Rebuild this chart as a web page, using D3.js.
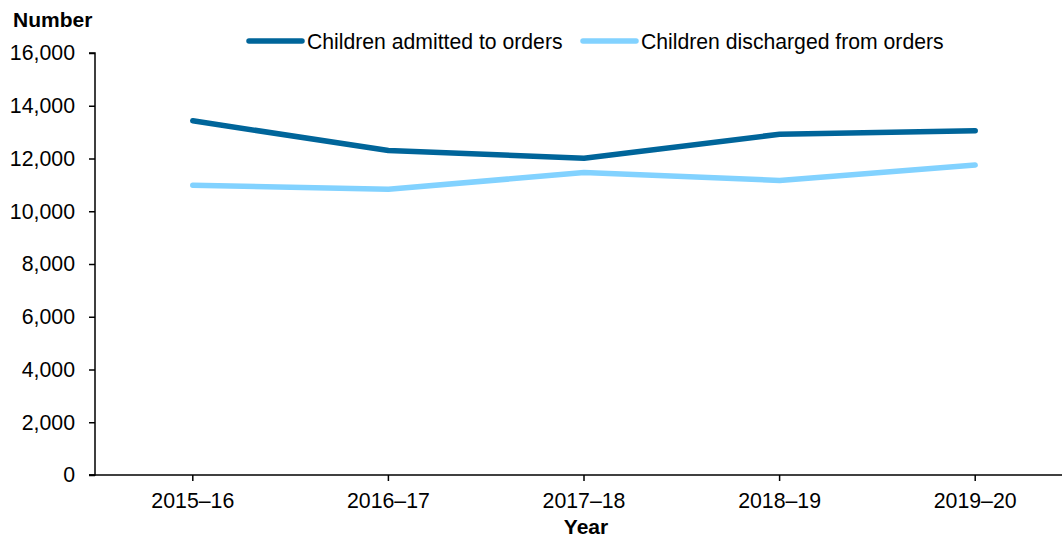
<!DOCTYPE html>
<html lang="en">
<head>
    <meta charset="UTF-8">
    <title>Children admitted to and discharged from orders</title>
    <style>
        body { margin: 0; background: #fff; }
        svg text { font-family: "Liberation Sans", Arial, sans-serif; fill: #000; }
        .axis path, .axis line { stroke: #000; stroke-width: 1.5px; }
        .axis text { font-size: 21.3px; }
        .line { fill: none; stroke-width: 5.5px; stroke-linejoin: round; stroke-linecap: round; }
    </style>
</head>
<body>
<svg width="1062" height="538"></svg>
<script src="https://d3js.org/d3.v7.min.js"></script>
<script>
    let years = ["2015–16", "2016–17", "2017–18", "2018–19", "2019–20"];
    let admitted = [13430, 12300, 12010, 12920, 13050];
    let discharged = [10990, 10830, 11470, 11170, 11750];
    let yTicks = [0, 2000, 4000, 6000, 8000, 10000, 12000, 14000, 16000];

    let series = [
        {name: "Children admitted to orders", values: admitted, color: "#00659a"},
        {name: "Children discharged from orders", values: discharged, color: "#82d2ff"}
    ];

    let svg = d3.select("svg"),
        plotLeft = 95, plotRight = 1073, plotTop = 53, plotBottom = 475;

    let x = d3.scaleBand().domain(years).range([plotLeft, plotRight]);
    let y = d3.scaleLinear().domain([0, 16000]).range([plotBottom, plotTop]);

    svg.append("g")
        .attr("class", "axis")
        .attr("transform", "translate(" + plotLeft + ",0)")
        .call(d3.axisLeft(y).tickValues(yTicks).tickSize(6).tickPadding(14)
            .tickFormat(d3.format(",")))
        .call(g => g.select(".domain").attr("d", "M-6," + plotTop + "H0V" + plotBottom + "H-6"));

    svg.append("g")
        .attr("class", "axis")
        .attr("transform", "translate(0," + plotBottom + ")")
        .call(d3.axisBottom(x).tickSize(6).tickPadding(12).tickSizeOuter(0))
        .call(g => g.select(".domain").attr("d", "M" + (plotLeft - 6) + ",0H" + plotRight));

    let line = d3.line()
        .x((d, i) => x(years[i]) + x.bandwidth() / 2)
        .y(d => y(d));

    svg.selectAll(".line")
        .data(series)
        .enter().append("path")
        .attr("class", "line")
        .attr("stroke", d => d.color)
        .attr("d", d => line(d.values));

    svg.append("text")
        .attr("x", 13).attr("y", 27)
        .style("font-size", "21px").style("font-weight", "bold")
        .text("Number");

    svg.append("text")
        .attr("x", (plotLeft + plotRight) / 2 + 2).attr("y", 534)
        .attr("text-anchor", "middle")
        .style("font-size", "21px").style("font-weight", "bold")
        .text("Year");

    // legend
    let legendX = [249, 583];
    let legend = svg.selectAll(".legend")
        .data(series)
        .enter().append("g")
        .attr("class", "legend")
        .attr("transform", (d, i) => "translate(" + legendX[i] + ",41)");

    legend.append("line")
        .attr("x1", 0).attr("x2", 53)
        .attr("stroke", d => d.color)
        .attr("stroke-width", 5.5)
        .attr("stroke-linecap", "round");

    legend.append("text")
        .attr("x", 58).attr("dy", "0.36em")
        .style("font-size", "21.2px")
        .text(d => d.name);
</script>
</body>
</html>
